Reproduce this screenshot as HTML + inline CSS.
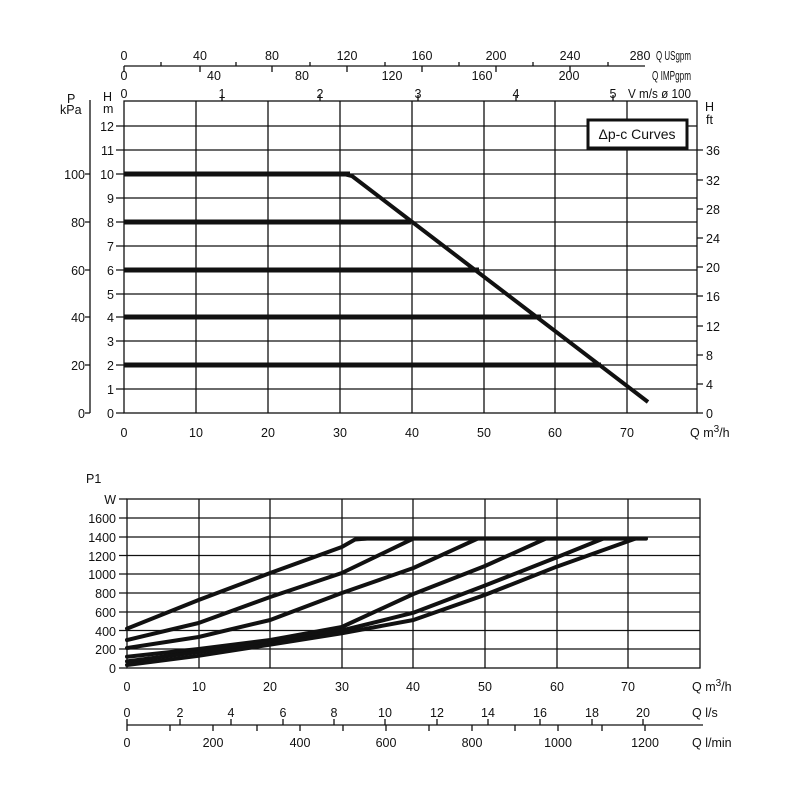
<!DOCTYPE html>
<html><head><meta charset="utf-8"><style>body{margin:0;background:#fff}svg{display:block}text{font-family:"Liberation Sans",sans-serif;font-size:12.5px;fill:#111}</style></head><body>
<svg width="800" height="800" viewBox="0 0 800 800" xmlns="http://www.w3.org/2000/svg">
<g stroke="#111" stroke-width="1.3" fill="none">
<rect x="124" y="101" width="573" height="312"/>
<path d="M124 389H697M124 365H697M124 341H697M124 317H697M124 294H697M124 270H697M124 246H697M124 222H697M124 198H697M124 174H697M124 150H697M124 126H697"/>
<path d="M196 101V413M268 101V413M340 101V413M412 101V413M484 101V413M555 101V413M627 101V413"/>
<path d="M90 100V413M85 413H90M85 365H90M85 317H90M85 270H90M85 222H90M85 174H90"/>
<path d="M116 413H124M116 389H124M116 365H124M116 341H124M116 317H124M116 294H124M116 270H124M116 246H124M116 222H124M116 198H124M116 174H124M116 150H124M116 126H124"/>
<path d="M697 413H703M697 384H703M697 355H703M697 326H703M697 296H703M697 267H703M697 238H703M697 209H703M697 180H703M697 150H703"/>
<path d="M124 66H645M124 66V72M161 66V62M200 66V72M236 66V62M272 66V72M310 66V62M347 66V72M385 66V62M422 66V72M459 66V62M496 66V72M533 66V62M570 66V72M608 66V62"/>
<path d="M222 101V95M320 101V95M418 101V95M516 101V95M613 101V95"/>
</g>
<g stroke="#111" stroke-width="5" fill="none">
<path d="M124 174H350M124 222H411M124 270H479M124 317H541M124 365H601"/>
</g>
<path d="M344 174L352 176L648 402" stroke="#111" stroke-width="4" fill="none" stroke-linejoin="round"/>
<rect x="588" y="120" width="99" height="28" fill="#fff" stroke="#111" stroke-width="3"/>
<text x="637" y="139" text-anchor="middle" style="font-size:14px">Δp-c Curves</text>
<g text-anchor="middle">
<text x="124" y="60">0</text><text x="200" y="60">40</text><text x="272" y="60">80</text><text x="347" y="60">120</text><text x="422" y="60">160</text><text x="496" y="60">200</text><text x="570" y="60">240</text><text x="640" y="60">280</text>
<text x="124" y="80">0</text><text x="214" y="80">40</text><text x="302" y="80">80</text><text x="392" y="80">120</text><text x="482" y="80">160</text><text x="569" y="80">200</text>
<text x="124" y="98">0</text><text x="222" y="98">1</text><text x="320" y="98">2</text><text x="418" y="98">3</text><text x="516" y="98">4</text><text x="613" y="98">5</text>
<text x="124" y="437">0</text><text x="196" y="437">10</text><text x="268" y="437">20</text><text x="340" y="437">30</text><text x="412" y="437">40</text><text x="484" y="437">50</text><text x="555" y="437">60</text><text x="627" y="437">70</text>
</g>
<text x="656" y="60" textLength="35" lengthAdjust="spacingAndGlyphs">Q USgpm</text>
<text x="652" y="80" textLength="39" lengthAdjust="spacingAndGlyphs">Q IMPgpm</text>
<text x="628" y="98" textLength="63" lengthAdjust="spacingAndGlyphs">V m/s ø 100</text>
<g text-anchor="end">
<text x="85" y="418">0</text><text x="85" y="370">20</text><text x="85" y="322">40</text><text x="85" y="275">60</text><text x="85" y="227">80</text><text x="85" y="179">100</text>
<text x="114" y="418">0</text><text x="114" y="394">1</text><text x="114" y="370">2</text><text x="114" y="346">3</text><text x="114" y="322">4</text><text x="114" y="299">5</text><text x="114" y="275">6</text><text x="114" y="251">7</text><text x="114" y="227">8</text><text x="114" y="203">9</text><text x="114" y="179">10</text><text x="114" y="155">11</text><text x="114" y="131">12</text>
</g>
<text x="67" y="103">P</text><text x="60" y="114">kPa</text>
<text x="103" y="101">H</text><text x="103" y="113">m</text>
<text x="705" y="111">H</text><text x="706" y="124">ft</text>
<text x="706" y="418">0</text><text x="706" y="389">4</text><text x="706" y="360">8</text><text x="706" y="331">12</text><text x="706" y="301">16</text><text x="706" y="272">20</text><text x="706" y="243">24</text><text x="706" y="214">28</text><text x="706" y="185">32</text><text x="706" y="155">36</text>
<text x="690" y="437">Q m<tspan dy="-5" style="font-size:10px">3</tspan><tspan dy="5">/h</tspan></text>
<g stroke="#111" stroke-width="1.3" fill="none">
<rect x="127" y="499" width="573" height="169"/>
<path d="M127 649H700M127 630.5H700M127 612H700M127 593H700M127 574H700M127 555.5H700M127 537H700M127 518H700"/>
<path d="M199 499V668M270 499V668M342 499V668M413 499V668M485 499V668M557 499V668M628 499V668"/>
<path d="M119 668H127M119 649H127M119 630.5H127M119 612H127M119 593H127M119 574H127M119 555.5H127M119 537H127M119 518H127M119 499H127"/>
<path d="M127 725H703M127 719V731"/>
<path d="M180 725V719M231 725V719M283 725V719M334 725V719M385 725V719M437 725V719M488 725V719M540 725V719M592 725V719M643 725V719"/>
<path d="M170 725V731M213 725V731M257 725V731M300 725V731M343 725V731M386 725V731M429 725V731M472 725V731M515 725V731M558 725V731M602 725V731M645 725V731"/>
</g>
<g stroke="#111" stroke-width="4" fill="none" stroke-linejoin="round" stroke-linecap="round">
<path d="M363 538.6H646"/>
<path d="M127 628.6L198.6 600L270.2 573L341.8 547L355 539.5L366 538.6"/>
<path d="M127 640L198.6 623L270.2 597L341.8 573L413.4 538.6"/>
<path d="M127 648L198.6 637L270.2 620L341.8 593L413.4 568L477.8 538.6"/>
<path d="M127 656.7L198.6 649L270.2 640L341.8 627L413.4 594L485 566L545.9 538.6"/>
<path d="M127 661.4L198.6 652L270.2 641.7L341.8 630.5L413.4 612.7L485 585.5L556.6 557.4L603.1 538.6"/>
<path d="M127 665L198.6 655.8L270.2 644.6L341.8 633.3L413.4 620L485 594.9L556.6 566.7L635.4 538.6"/>
</g>
<g text-anchor="end">
<text x="116" y="673">0</text><text x="116" y="654">200</text><text x="116" y="636">400</text><text x="116" y="617">600</text><text x="116" y="598">800</text><text x="116" y="579">1000</text><text x="116" y="561">1200</text><text x="116" y="542">1400</text><text x="116" y="523">1600</text><text x="116" y="504">W</text>
</g>
<text x="86" y="483">P1</text>
<g text-anchor="middle">
<text x="127" y="691">0</text><text x="199" y="691">10</text><text x="270" y="691">20</text><text x="342" y="691">30</text><text x="413" y="691">40</text><text x="485" y="691">50</text><text x="557" y="691">60</text><text x="628" y="691">70</text>
<text x="127" y="717">0</text><text x="180" y="717">2</text><text x="231" y="717">4</text><text x="283" y="717">6</text><text x="334" y="717">8</text><text x="385" y="717">10</text><text x="437" y="717">12</text><text x="488" y="717">14</text><text x="540" y="717">16</text><text x="592" y="717">18</text><text x="643" y="717">20</text>
<text x="127" y="747">0</text><text x="213" y="747">200</text><text x="300" y="747">400</text><text x="386" y="747">600</text><text x="472" y="747">800</text><text x="558" y="747">1000</text><text x="645" y="747">1200</text>
</g>
<text x="692" y="691">Q m<tspan dy="-5" style="font-size:10px">3</tspan><tspan dy="5">/h</tspan></text>
<text x="692" y="717">Q l/s</text>
<text x="692" y="747">Q l/min</text>
</svg>
</body></html>
